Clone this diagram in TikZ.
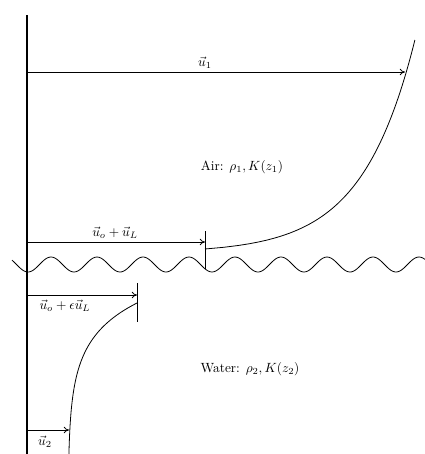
\documentclass[tikz,border=0pt]{standalone}
\usetikzlibrary{arrows.meta}
\begin{document}
\begin{tikzpicture}[x=0.75pt,y=-0.75pt,
  thinline/.style={line width=0.6pt},
  vecarrow/.style={thinline,-{To[length=4pt,width=5pt]}},
  lbl/.style={inner sep=1pt}]
\useasboundingbox (0,0) rectangle (425,454);
% axis
\coordinate (top) at (27,15);
\coordinate (bot) at (27,454);
\draw[line width=0.9pt] (top) -- (bot);
% air profile (logarithmic)
\draw[thinline] plot[domain=0:209,samples=120] ({205+52.8*ln(1+\x/4)},{249-\x});
% water profile (exponential)
\draw[thinline] plot[domain=303:454,samples=80] ({68+69*exp(-(\x-303)/35)},\x);
% wave
\draw[thinline] plot[domain=12:425,samples=220] (\x,{264.5+7.5*cos(7.826087*(\x-28))});
% ticks
\coordinate (t1a) at (205,231); \coordinate (t1b) at (205,269);
\draw[thinline] (t1a) -- (t1b);
\coordinate (t2a) at (137,283); \coordinate (t2b) at (137,322);
\draw[thinline] (t2a) -- (t2b);
% arrows
\coordinate (u1s) at (27,72); \coordinate (u1e) at (405,72);
\draw[vecarrow] (u1s) -- (u1e);
\coordinate (uLs) at (27,242); \coordinate (uLe) at (205,242);
\draw[vecarrow] (uLs) -- (uLe);
\coordinate (ues) at (27,295); \coordinate (uee) at (137,295);
\draw[vecarrow] (ues) -- (uee);
\coordinate (u2s) at (27,430); \coordinate (u2e) at (69,430);
\draw[vecarrow] (u2s) -- (u2e);
% labels
\node[lbl] (lu1) at (205,63) {$\vec{u}_1$};
\node[lbl] (luL) at (115,233) {$\vec{u}_o+\vec{u}_L$};
\node[lbl] (lue) at (65,306) {$\vec{u}_o+\epsilon\vec{u}_L$};
\node[lbl] (lu2) at (45,442) {$\vec{u}_2$};
\node[lbl] (air) at (242,167) {Air: $\rho_1, K(z_1)$};
\node[lbl] (water) at (250,369) {Water: $\rho_2, K(z_2)$};
\end{tikzpicture}
\end{document}
